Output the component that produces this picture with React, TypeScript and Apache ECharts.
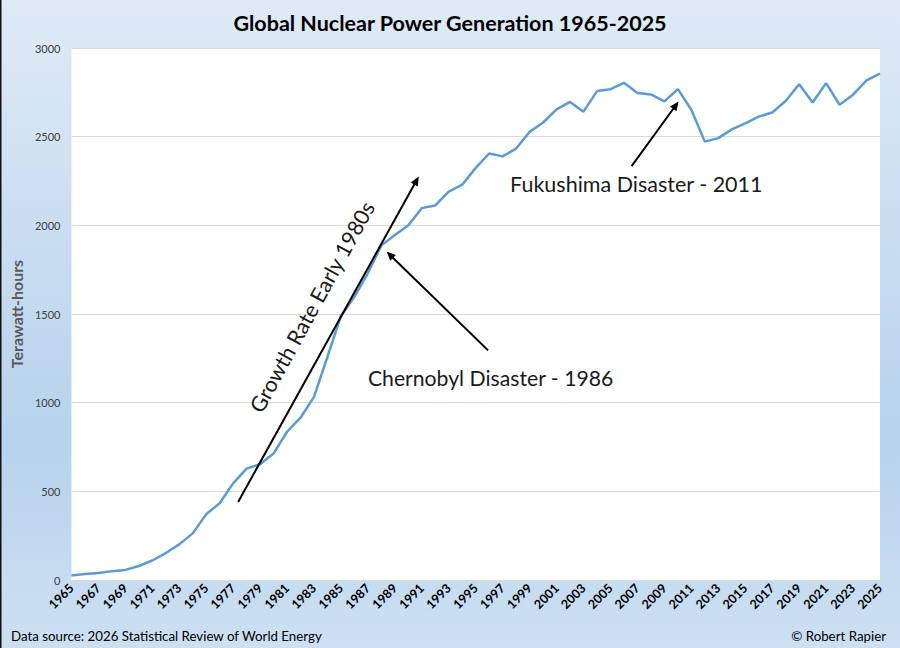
import React, { useEffect, useRef } from "react";
import * as echarts from "echarts";

const YEARS: string[] = [];
for (let y = 1965; y <= 2025; y++) YEARS.push(String(y));

const GENERATION_TWH = [
  26, 34, 40, 50, 57, 79, 110, 152, 201, 263,
  371, 433, 545, 628, 653, 713, 836, 915, 1033, 1259,
  1489, 1597, 1731, 1887, 1946, 2001, 2097, 2112, 2190, 2229,
  2324, 2405, 2389, 2433, 2527, 2580, 2654, 2696, 2641, 2757,
  2768, 2804, 2746, 2738, 2699, 2768, 2652, 2472, 2492, 2541,
  2575, 2613, 2636, 2701, 2796, 2693, 2802, 2680, 2737, 2817,
  2855,
];

const Y_TICKS = [0, 500, 1000, 1500, 2000, 2500, 3000];

const TITLE = "Global Nuclear Power Generation 1965-2025";
const Y_NAME = "Terawatt-hours";
const SOURCE = "Data source: 2026 Statistical Review of World Energy";
const CREDIT = "© Robert Rapier";

// annotation anchors, in (year, TWh) data units
const ARROWS = [
  { from: [1977.37, 440], to: [1990.77, 2275] },
  { from: [1995.92, 1295], to: [1988.39, 1852] },
  { from: [2006.57, 2334], to: [2010.05, 2698] },
];
const NOTES = [
  { text: "Growth Rate Early 1980s", at: [1982.85, 1540], angleDeg: 61.3, align: "center", size: 21.5 },
  { text: "Chernobyl Disaster - 1986", at: [1987.0, 1137], angleDeg: 0, align: "left", size: 21.2 },
  { text: "Fukushima Disaster - 2011", at: [1997.55, 2234], angleDeg: 0, align: "left", size: 21.5 },
];

const FONT = "Lato, 'Open Sans', sans-serif";

export default function App() {
  const ref = useRef<HTMLDivElement>(null);
  useEffect(() => {
    document.body.style.margin = "0";
    if (!ref.current) return;
    const chart = echarts.init(ref.current, undefined, { renderer: "svg" });
    const option: any = {
      animation: false,
      backgroundColor: {
        type: "linear", x: 0, y: 0, x2: 0, y2: 1,
        colorStops: [
          { offset: 0, color: "#dfeaf6" },
          { offset: 0.68, color: "#b6d2ec" },
          { offset: 1, color: "#cde0f2" },
        ],
      },
      textStyle: { fontFamily: FONT },
      title: {
        text: TITLE, left: "center", top: 7,
        textStyle: { fontFamily: FONT, fontSize: 21.5, fontWeight: "bold", color: "#000" },
      },
      grid: { left: 64, right: 20, top: 48, bottom: 68, show: true, backgroundColor: "#ffffff", borderWidth: 0 },
      xAxis: {
        type: "category",
        data: YEARS,
        boundaryGap: false,
        axisLine: { show: false },
        axisTick: { show: false },
        axisLabel: {
          interval: 1, rotate: 45, margin: 6,
          fontFamily: FONT, fontSize: 12.5, fontWeight: "bold", color: "#000",
        },
      },
      yAxis: {
        type: "value",
        min: Y_TICKS[0], max: Y_TICKS[Y_TICKS.length - 1], interval: 500,
        name: Y_NAME, nameLocation: "middle", nameGap: 43, nameRotate: 90,
        nameTextStyle: { fontFamily: FONT, fontSize: 16, fontWeight: "bold", color: "#595959" },
        axisLine: { show: false },
        axisTick: { show: false },
        axisLabel: {
          fontFamily: FONT, fontSize: 11, color: "#404040", margin: 11,
          formatter: (v: number) => String(v),
        },
        splitLine: { lineStyle: { color: "#d9d9d9", width: 1 } },
      },
      series: [
        {
          type: "line",
          data: GENERATION_TWH,
          symbol: "none",
          lineStyle: { color: "#5b9bd5", width: 2.5 },
          z: 2,
        },
      ],
    };
    chart.setOption(option);

    const toPx = (year: number, v: number) => {
      const i0 = Math.floor(year - 1965);
      const f = year - 1965 - i0;
      const p0 = chart.convertToPixel({ gridIndex: 0 }, [i0, v]) as number[];
      const p1 = chart.convertToPixel({ gridIndex: 0 }, [i0 + 1, v]) as number[];
      return [p0[0] + (p1[0] - p0[0]) * f, p0[1]];
    };

    const graphics: any[] = [];
    ARROWS.forEach((a) => {
      const [x1, y1] = toPx(a.from[0], a.from[1]);
      const [x2, y2] = toPx(a.to[0], a.to[1]);
      const dx = x2 - x1, dy = y2 - y1;
      const len = Math.sqrt(dx * dx + dy * dy);
      const ux = dx / len, uy = dy / len;
      const hl = 9, hw = 4;
      const bx = x2 - ux * hl, by = y2 - uy * hl;
      graphics.push({
        type: "line", z: 10,
        shape: { x1, y1, x2: bx + ux * 1, y2: by + uy * 1 },
        style: { stroke: "#000", lineWidth: 2 },
      });
      graphics.push({
        type: "polygon", z: 10,
        shape: { points: [[x2, y2], [bx - uy * hw, by + ux * hw], [bx + uy * hw, by - ux * hw]] },
        style: { fill: "#000" },
      });
    });
    NOTES.forEach((n) => {
      const [x, y] = toPx(n.at[0], n.at[1]);
      graphics.push({
        type: "text", z: 10, x, y,
        rotation: (n.angleDeg * Math.PI) / 180,
        style: {
          text: n.text, fill: "#1a1a1a", fontFamily: FONT, fontSize: n.size,
          align: n.align, verticalAlign: "middle",
        },
      });
    });
    graphics.push({
      type: "text", left: 11, top: 629,
      style: { text: SOURCE, fill: "#000", fontFamily: FONT, fontSize: 13.3 },
    });
    graphics.push({
      type: "text", right: 14, top: 629,
      style: { text: CREDIT, fill: "#000", fontFamily: FONT, fontSize: 13.3 },
    });
    graphics.push({
      type: "rect", left: 0, top: 0,
      shape: { width: 1.5, height: 648 },
      style: { fill: "#111" },
    });
    chart.setOption({ graphic: graphics });

    return () => chart.dispose();
  }, []);
  return <div ref={ref} style={{ width: 900, height: 648 }} />;
}
